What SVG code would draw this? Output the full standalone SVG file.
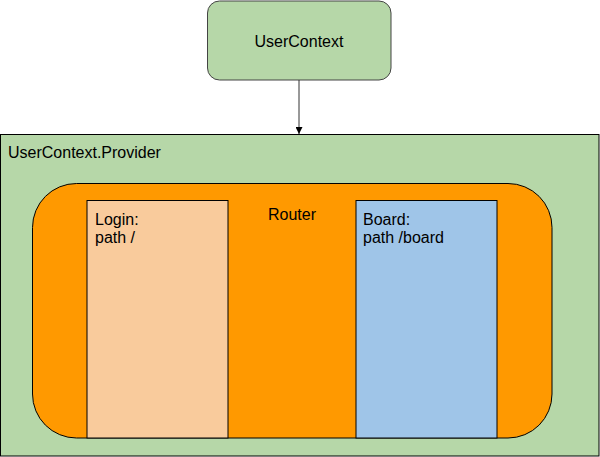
<svg xmlns="http://www.w3.org/2000/svg" width="600" height="457" viewBox="0 0 600 457">
<style>
text{font-family:"Liberation Sans",Arial,sans-serif;font-size:16px;fill:#000}
.b{stroke:#000;stroke-width:1}
</style>
<defs>
<marker id="ah" viewBox="0 0 10 10" refX="10" refY="5" markerWidth="7" markerHeight="7" markerUnits="userSpaceOnUse" orient="auto">
<path d="M0,0 L10,5 L0,10 z" fill="#000"/>
</marker>
</defs>
<rect width="600" height="457" fill="#fff"/>
<g id="provider">
<rect class="b" x="0.5" y="134.5" width="598.5" height="321.5" fill="#b6d7a8"/>
<text x="8" y="158">UserContext.Provider</text>
</g>
<g id="router">
<rect class="b" x="32.5" y="183.5" width="519.5" height="254.5" rx="44" ry="44" fill="#ff9900"/>
<text x="292" y="220" text-anchor="middle">Router</text>
</g>
<g id="login">
<rect class="b" x="87" y="200.5" width="141" height="237.5" fill="#f9cb9c"/>
<text x="95" y="225">Login:</text>
<text x="95" y="243">path /</text>
</g>
<g id="board">
<rect class="b" x="356" y="200.5" width="141" height="237.5" fill="#9fc5e8"/>
<text x="363" y="225">Board:</text>
<text x="363" y="243">path /board</text>
</g>
<g id="usercontext">
<rect x="207.5" y="1" width="183.5" height="79" rx="12" ry="12" fill="#b6d7a8" stroke="#444" stroke-width="1"/>
<text x="299" y="47" text-anchor="middle">UserContext</text>
</g>
<g id="connectors">
<line x1="299" y1="80" x2="299" y2="134" stroke="#333" stroke-width="1" marker-end="url(#ah)"/>
</g>
</svg>
